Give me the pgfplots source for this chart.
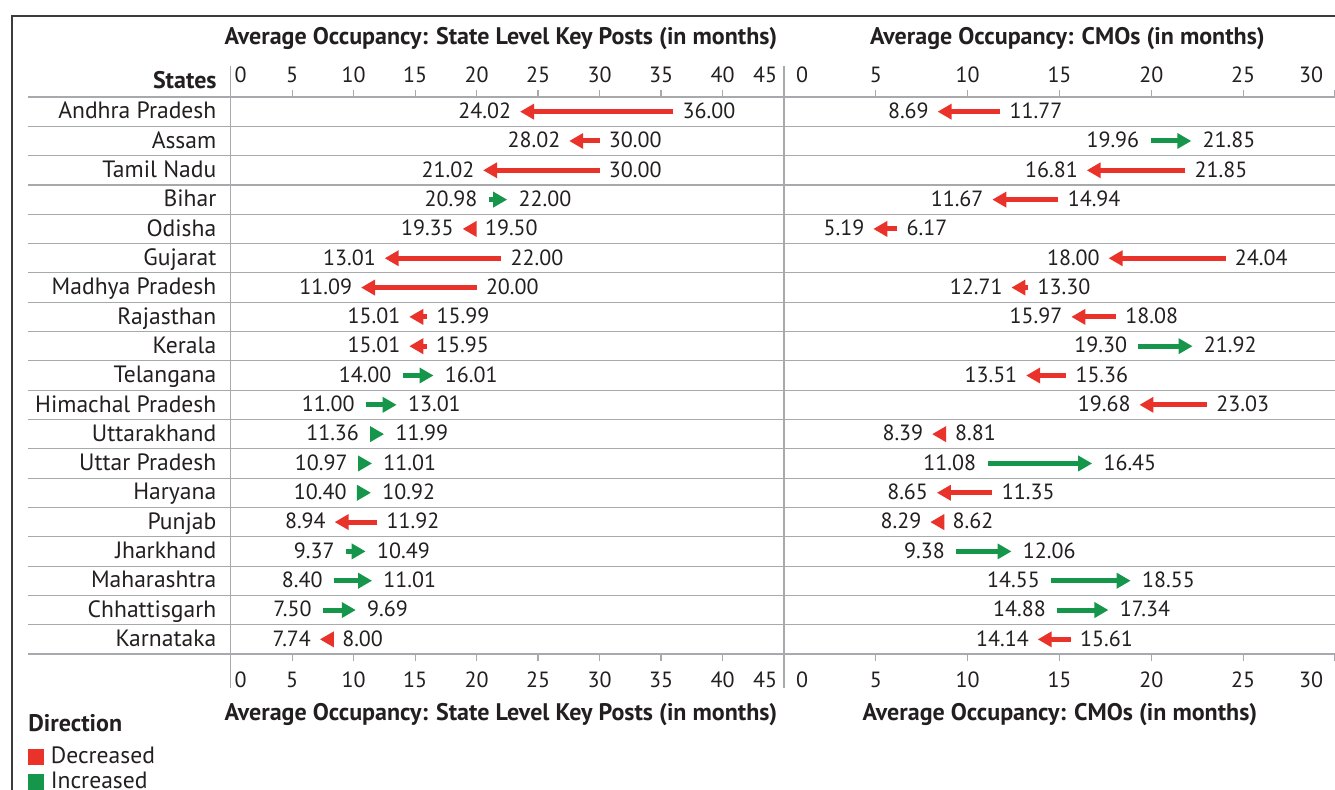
\documentclass[border=0pt]{standalone}
\usepackage{fontspec}
\setmainfont{PT Sans}
\usepackage{pgfplots}
\pgfplotsset{compat=1.18}
\usepackage{pgfplotstable}
\usetikzlibrary{arrows.meta}
\definecolor{dec}{HTML}{E8322A}
\definecolor{inc}{HTML}{16964B}
\definecolor{txt}{HTML}{231F20}
\definecolor{sep}{HTML}{A7A9AC}
\definecolor{frame}{HTML}{3C3C3C}
\newcommand{\lab}{\fontsize{11}{13}\selectfont}
\newcommand{\nam}{\fontsize{11.8}{14}\selectfont}
\newcommand{\ttl}{\fontsize{12}{14}\selectfont\bfseries}

% left panel: state level key posts
\pgfplotstableread{
y s e
1 36.00 24.02
2 30.00 28.02
3 30.00 21.02
5 19.50 19.35
6 22.00 13.01
7 20.00 11.09
8 15.99 15.01
9 15.95 15.01
15 11.92 8.94
19 8.00 7.74
}\LD
\pgfplotstableread{
y s e
4 20.98 22.00
10 14.00 16.01
11 11.00 13.01
12 11.36 11.99
13 10.97 11.01
14 10.40 10.92
16 9.37 10.49
17 8.40 11.01
18 7.50 9.69
}\LI
% right panel: CMOs
\pgfplotstableread{
y s e
1 11.77 8.69
3 21.85 16.81
4 14.94 11.67
5 6.17 5.19
6 24.04 18.00
7 13.30 12.71
8 18.08 15.97
10 15.36 13.51
11 23.03 19.68
12 8.81 8.39
14 11.35 8.65
15 8.62 8.29
19 15.61 14.14
}\RD
\pgfplotstableread{
y s e
2 19.96 21.85
9 19.30 21.92
13 11.08 16.45
16 9.38 12.06
17 14.55 18.55
18 14.88 17.34
}\RI

\pgfplotsset{
  panel/.style={
    scale only axis, height=278.5pt,
    ymin=0.5, ymax=19.5, y dir=reverse,
    axis line style={draw=none},
    tick align=outside,
    major tick length=3.5pt,
    x tick style={sep, line width=0.6pt},
    ytick={1,...,19},
    major y tick style={draw=none},
    minor y tick style={sep, line width=0.55pt},
    minor ytick={0.5,1.5,...,19.5},
    yminorgrids=true,
    minor grid style={sep, line width=0.55pt},
    xticklabel style={font=\lab, text=txt},
    xtick pos=left, xticklabel pos=left,
    ytick pos=left,
    clip=false,
  },
  toppanel/.style={
    scale only axis, height=278.5pt,
    ymin=0.5, ymax=19.5, hide y axis,
    axis line style={draw=none},
    tick align=outside,
    major tick length=3.5pt,
    x tick style={sep, line width=0.6pt},
    xticklabel style={font=\lab, text=txt},
    xtick pos=right, xticklabel pos=right,
  },
  arr/.style={line width=2.5pt, -{Triangle[length=7pt,width=7.5pt]}, shorten >=-3pt,
    quiver={u=\thisrow{e}-\thisrow{s}, v=0}, forget plot},
  lab/.style={only marks, mark=none, forget plot, nodes near coords, point meta=explicit symbolic,
    every node near coord/.append style={font=\lab, text=txt, inner sep=0pt, yshift=-3.4pt}},
}

\begin{document}
\begin{tikzpicture}[x=0.5pt, y=0.5pt]
\useasboundingbox (-230.7,-135) rectangle (1104.3,654);
\draw[frame, line width=1pt] (-218.4,-140) -- (-218.4,638.3) -- (1110,638.3);

% ---------- left panel ----------
\begin{axis}[panel, at={(0pt,0pt)}, anchor=south west, width=276.65pt,
  xmin=0, xmax=45, xtick={0,5,...,45},
  xticklabels={\rlap{\hspace{2pt}0},5,10,15,20,25,30,35,40,\llap{45\hspace{3.5pt}}},
  xticklabel style={yshift=-2pt},
  minor tick length=101.35pt,
  yticklabels={Andhra Pradesh,Assam,Tamil Nadu,Bihar,Odisha,Gujarat,Madhya Pradesh,Rajasthan,Kerala,Telangana,Himachal Pradesh,Uttarakhand,Uttar Pradesh,Haryana,Punjab,Jharkhand,Maharashtra,Chhattisgarh,Karnataka},
  yticklabel style={font=\nam, text=txt, anchor=base east, inner sep=0pt, yshift=-3.6pt, xshift=-3.5pt},
  legend style={at={(axis description cs:-0.3663,-0.1585)}, anchor=north west, draw=none, fill=none,
    inner sep=0pt, font=\nam, text=txt, legend cell align=left, row sep=-1pt},
  legend image code/.code={\fill[#1] (0pt,-3.7pt) rectangle (7.5pt,3.8pt); \path[draw=none, fill=none] (0pt,0pt) rectangle (9pt,0.1pt);},
]
\addplot[arr, dec] table[x=s, y=y] {\LD};
\addplot[arr, inc] table[x=s, y=y] {\LI};
\addplot[lab, every node near coord/.append style={anchor=base west, xshift=4.5pt}] table[x expr={max(\thisrow{s},\thisrow{e}+0.57)}, y=y, meta=s] {\LD};
\addplot[lab, every node near coord/.append style={anchor=base east, xshift=-7.25pt}] table[x=e, y=y, meta=e] {\LD};
\addplot[lab, every node near coord/.append style={anchor=base east, xshift=-5.5pt}] table[x expr={min(\thisrow{s},\thisrow{e}-0.57)}, y=y, meta=s] {\LI};
\addplot[lab, every node near coord/.append style={anchor=base west, xshift=8.5pt}] table[x=e, y=y, meta=e] {\LI};
\addlegendimage{dec}
\addlegendentry{Decreased}
\addlegendimage{inc}
\addlegendentry{Increased}
\end{axis}
\begin{axis}[toppanel, at={(0pt,0pt)}, anchor=south west, width=276.65pt,
  xmin=0, xmax=45, xtick={0,5,...,45},
  xticklabels={\rlap{\hspace{2pt}0},5,10,15,20,25,30,35,40,\llap{45\hspace{3.5pt}}},
]
\end{axis}

% ---------- right panel ----------
\begin{axis}[panel, at={(276.65pt,0pt)}, anchor=south west, width=275.5pt,
  xmin=0, xmax=30, xtick={0,5,...,30},
  xticklabels={\rlap{\hspace{6pt}0},5,10,15,20,25,\llap{30\hspace{6pt}}},
  xticklabel style={yshift=-2pt},
  minor tick length=0pt,
  yticklabels={},
]
\addplot[arr, dec] table[x=s, y=y] {\RD};
\addplot[arr, inc] table[x=s, y=y] {\RI};
\addplot[lab, every node near coord/.append style={anchor=base west, xshift=4.5pt}] table[x expr={max(\thisrow{s},\thisrow{e}+0.38)}, y=y, meta=s] {\RD};
\addplot[lab, every node near coord/.append style={anchor=base east, xshift=-7.25pt}] table[x=e, y=y, meta=e] {\RD};
\addplot[lab, every node near coord/.append style={anchor=base east, xshift=-5.5pt}] table[x expr={min(\thisrow{s},\thisrow{e}-0.38)}, y=y, meta=s] {\RI};
\addplot[lab, every node near coord/.append style={anchor=base west, xshift=8.5pt}] table[x=e, y=y, meta=e] {\RI};
\end{axis}
\begin{axis}[toppanel, at={(276.65pt,0pt)}, anchor=south west, width=275.5pt,
  xmin=0, xmax=30, xtick={0,5,...,30},
  xticklabels={\rlap{\hspace{6pt}0},5,10,15,20,25,\llap{30\hspace{6pt}}},
]
\end{axis}

% separators and titles
\draw[sep, line width=0.6pt] (0,-34) -- (0,588);
\draw[sep, line width=0.6pt] (553.3,-34) -- (553.3,588);
\node[font=\ttl, text=txt, anchor=base] at (270.3,610) {Average Occupancy: State Level Key Posts (in months)};
\node[font=\ttl, text=txt, anchor=base] at (836.8,610) {Average Occupancy: CMOs (in months)};
\node[font=\ttl, text=txt, anchor=base] at (270.3,-66) {Average Occupancy: State Level Key Posts (in months)};
\node[font=\ttl, text=txt, anchor=base] at (829.3,-66) {Average Occupancy: CMOs (in months)};
\node[font=\ttl, text=txt, anchor=base east, inner sep=0pt] at (-13.7,566) {States};
\node[font=\ttl, text=txt, anchor=base west, inner sep=0pt] at (-202.7,-77.7) {Direction};
\end{tikzpicture}
\end{document}
